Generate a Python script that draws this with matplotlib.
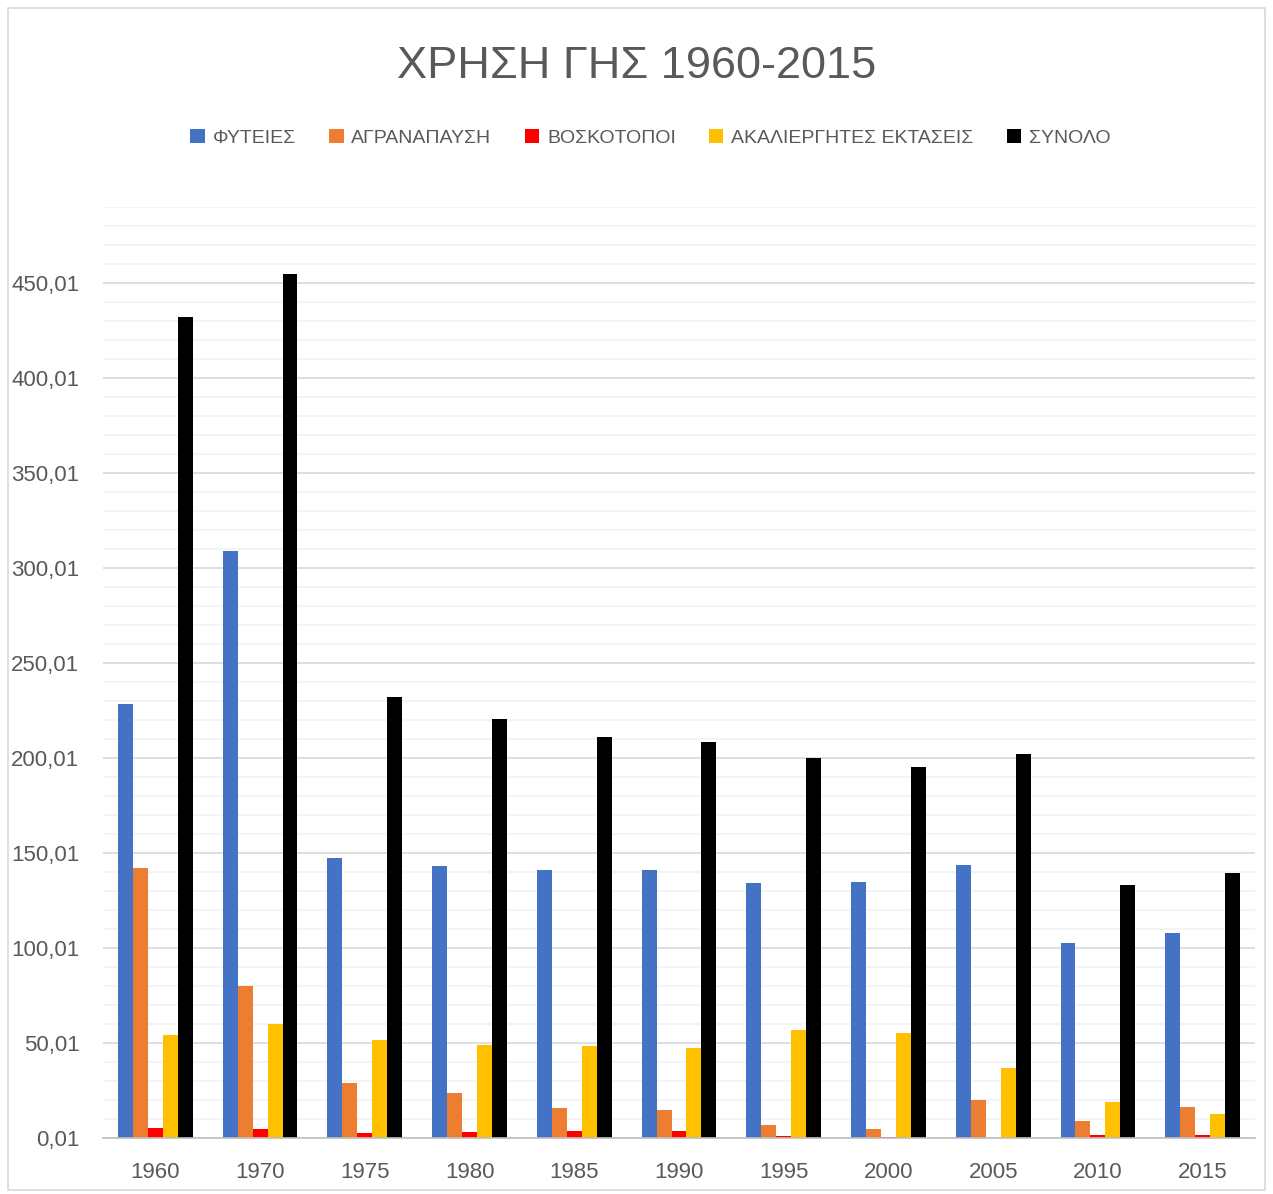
import matplotlib.pyplot as plt
import numpy as np
from matplotlib.patches import Rectangle
from matplotlib.ticker import FixedLocator

plt.rcParams['font.family'] = ['Liberation Sans', 'DejaVu Sans']

years = ['1960', '1970', '1975', '1980', '1985', '1990', '1995', '2000', '2005', '2010', '2015']
fyteies = [228.5, 309, 147.5, 143, 141, 141, 134, 134.7, 143.7, 102.6, 108]
agranapafsi = [142, 80, 29, 23.7, 15.8, 14.7, 6.7, 4.6, 20, 9, 16.2]
voskotopoi = [5.3, 4.7, 2.5, 3.3, 3.7, 3.7, 1.0, 0.6, 0.2, 1.6, 1.6]
akalliergites = [54, 60, 51.6, 49, 48.4, 47.4, 56.8, 55.4, 36.7, 19, 12.6]
synolo = [432, 455, 232, 220.5, 211, 208.4, 200, 195.3, 202, 133, 139.5]

series = [
    ('ΦΥΤΕΙΕΣ', fyteies, '#4472C4'),
    ('ΑΓΡΑΝΑΠΑΥΣΗ', agranapafsi, '#ED7D31'),
    ('ΒΟΣΚΟΤΟΠΟΙ', voskotopoi, '#FF0000'),
    ('ΑΚΑΛΙΕΡΓΗΤΕΣ ΕΚΤΑΣΕΙΣ', akalliergites, '#FFC000'),
    ('ΣΥΝΟΛΟ', synolo, '#000000'),
]

fig = plt.figure(figsize=(12.73, 11.94), dpi=100)
ax = fig.add_axes([103/1273, 1 - 1138/1194, 1152/1273, 931/1194])

x = np.arange(len(years))
w = 1/7
base = 0.01
for i, (name, vals, col) in enumerate(series):
    ax.bar(x + (i - 2)*w, np.array(vals) - base, w, bottom=base, color=col, label=name, zorder=3)

ax.set_xlim(-0.5, len(years) - 0.5)
ax.set_ylim(base, 490.01)
major = [base + 50*k for k in range(10)]
ax.yaxis.set_major_locator(FixedLocator(major))
ax.yaxis.set_minor_locator(FixedLocator([base + 10*k for k in range(50)]))
ax.set_yticklabels([('%.2f' % v).replace('.', ',') for v in major])
ax.set_xticks(x)
ax.set_xticklabels(years)

ax.grid(axis='y', which='minor', color='#F2F2F2', lw=1.2, zorder=0)
ax.grid(axis='y', which='major', color='#D9D9D9', lw=1.2, zorder=1)
for s in ['top', 'right', 'left']:
    ax.spines[s].set_visible(False)
ax.spines['bottom'].set_color('#BFBFBF')
ax.spines['bottom'].set_linewidth(1.2)
ax.spines['bottom'].set_zorder(4)
ax.tick_params(axis='both', which='both', length=0, labelsize=16, labelcolor='#595959')
ax.tick_params(axis='x', pad=17)
ax.tick_params(axis='y', pad=17)

fig.text(0.5, 1 - 67/1194, 'ΧΡΗΣΗ ΓΗΣ 1960-2015', ha='center', va='center',
         fontsize=32.5, color='#595959')

leg = fig.legend(loc='center', bbox_to_anchor=(0.511, 1 - 138/1194), ncol=5, frameon=False,
                 fontsize=14, handlelength=0.75, handleheight=0.75, handletextpad=0.4,
                 columnspacing=1.7)
for t in leg.get_texts():
    t.set_color('#595959')

fig.patches.append(Rectangle((8/1273, 4/1194), 1257/1273, 1182/1194, transform=fig.transFigure,
                             fill=False, edgecolor='#D9D9D9', lw=1.2))

fig.savefig('out.png', dpi=100)
